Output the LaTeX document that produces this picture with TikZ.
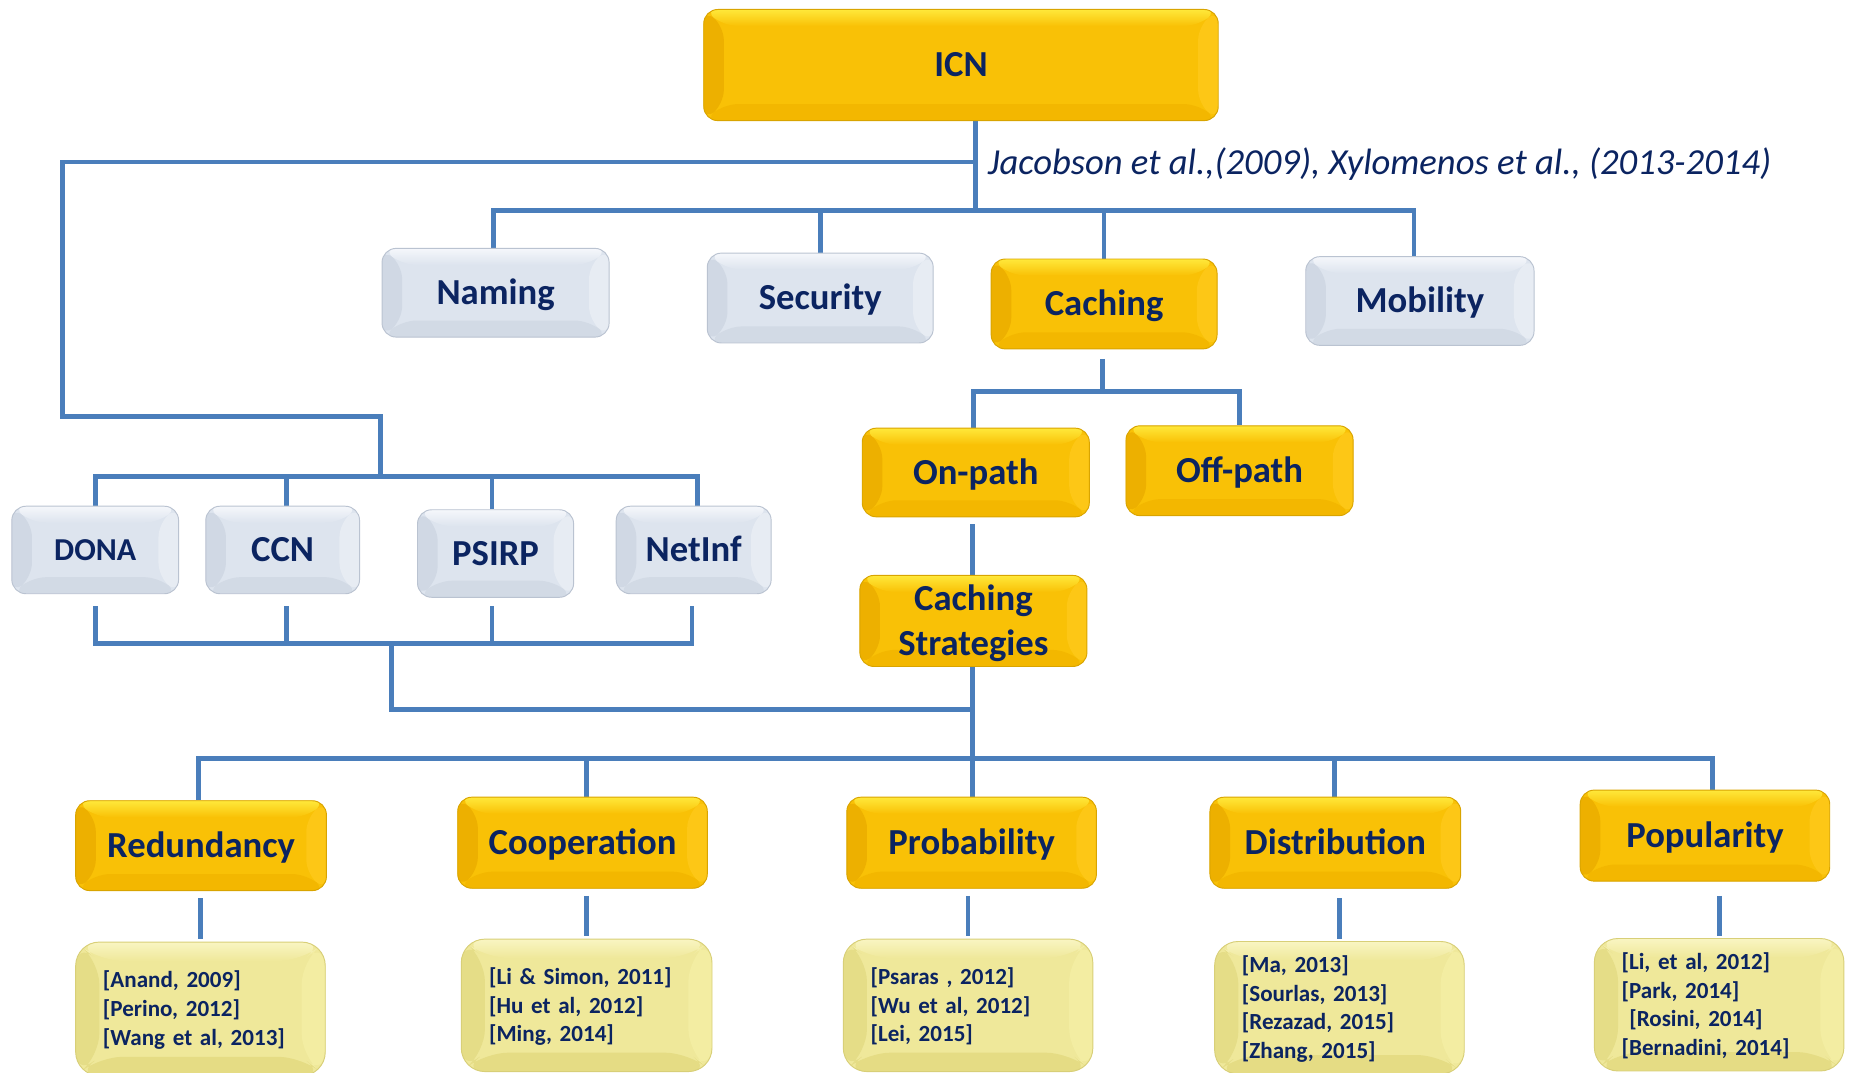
\documentclass[tikz,border=0pt]{standalone}
\usepackage{fontspec}
\setmainfont{Carlito}
\usetikzlibrary{calc,backgrounds}
\definecolor{navy}{HTML}{0B2461}
\definecolor{lineblue}{HTML}{4A7EBB}
% gold
\definecolor{gbase}{HTML}{F9C106}
\definecolor{gtop}{HTML}{FFE83A}
\definecolor{gleft}{HTML}{EDB000}
\definecolor{gright}{HTML}{FDC716}
\definecolor{gbot}{HTML}{F3B700}
\definecolor{gedge}{HTML}{D9A400}
% grey
\definecolor{sbase}{HTML}{DDE4EE}
\definecolor{stop}{HTML}{F5F7FB}
\definecolor{sleft}{HTML}{D0D8E4}
\definecolor{sright}{HTML}{E7ECF3}
\definecolor{sbot}{HTML}{D2DAE5}
\definecolor{sedge}{HTML}{BAC3D1}
% pale yellow
\definecolor{ybase}{HTML}{EFE89A}
\definecolor{ytop}{HTML}{F9F5C2}
\definecolor{yleft}{HTML}{E5DD87}
\definecolor{yright}{HTML}{F3EDA2}
\definecolor{ybot}{HTML}{E5DC84}
\definecolor{yedge}{HTML}{D8CF78}
\newcommand\mybevel[7]{%
  \coordinate (bnw) at (path picture bounding box.north west);
  \coordinate (bne) at (path picture bounding box.north east);
  \coordinate (bsw) at (path picture bounding box.south west);
  \coordinate (bse) at (path picture bounding box.south east);
  \fill[#3] (bnw) -- ($(bnw)+(#6,#7)$) -- ($(bsw)+(#6,-#7)$) -- (bsw) -- cycle;
  \fill[#4] (bne) -- ($(bne)+(-#6,#7)$) -- ($(bse)+(-#6,-#7)$) -- (bse) -- cycle;
  \fill[#5] (bsw) -- ($(bsw)+(#6,-#7)$) -- ($(bse)+(-#6,-#7)$) -- (bse) -- cycle;
  \shade[top color=#1, bottom color=#2] (bnw) -- (bne) -- ($(bne)+(-#6,#7)$) -- ($(bnw)+(#6,#7)$) -- cycle;
}
\tikzset{
  x=1pt, y=-1pt,
  box/.style={rectangle, rounded corners=12pt, inner sep=0pt, text=navy,
    font=\bfseries\fontsize{31}{38}\selectfont, line width=0.8pt,
    text height=20pt, text depth=0pt},
  gold/.style={box, fill=gbase, draw=gedge,
    path picture={\mybevel{gtop}{gbase}{gleft}{gright}{gbot}{17}{14}}},
  grey/.style={box, fill=sbase, draw=sedge,
    path picture={\mybevel{stop}{sbase}{sleft}{sright}{sbot}{17}{14}}},
  refbox/.style={box, rounded corners=20pt, fill=ybase, draw=yedge,
    font=\bfseries\fontsize{19.5}{24.2}\selectfont, align=left,
    text width=165pt, text height=13pt, text depth=48.4pt,
    path picture={\mybevel{ytop}{ybase}{yleft}{yright}{ybot}{20}{16}}},
  conn/.style={draw=lineblue, line width=4pt},
  cite/.style={text=navy, font=\itshape\fontsize{31}{36}\selectfont, anchor=west, inner sep=0pt},
}
\begin{document}
\begin{tikzpicture}
\useasboundingbox (0,0) rectangle (1565,906.4);
% top
\node[gold, minimum width=435pt, minimum height=94pt] (ICN) at (812.5,55) {ICN};
\node[cite] (cit) at (835,138.5) {Jacobson et al.,(2009), Xylomenos et al., (2013-2014)};
% second row
\node[grey, minimum width=192pt, minimum height=75pt] (Naming) at (419,247.5) {Naming};
\node[grey, minimum width=191pt, minimum height=76pt] (Security) at (693.5,252) {Security};
\node[gold, minimum width=191pt, minimum height=76pt] (Caching) at (933.5,257) {Caching};
\node[grey, minimum width=193pt, minimum height=75pt] (Mobility) at (1200.5,254.5) {Mobility};
% on/off path
\node[gold, minimum width=192pt, minimum height=75pt] (Onpath) at (825,399.5) {On-path};
\node[gold, minimum width=192pt, minimum height=76pt] (Offpath) at (1048,398) {Off-path};
\node[gold, minimum width=192pt, minimum height=77pt, align=center, text height=58pt] (CS) at (823,525) {Caching\\Strategies};
% architectures
\node[grey, minimum width=141pt, minimum height=74pt, font=\bfseries\fontsize{27}{32}\selectfont, text height=17.4pt] (DONA) at (80.5,465) {DONA};
\node[grey, minimum width=130pt, minimum height=74pt] (CCN) at (239,465) {CCN};
\node[grey, minimum width=132pt, minimum height=74pt] (PSIRP) at (419,468) {PSIRP};
\node[grey, minimum width=131pt, minimum height=74pt] (NetInf) at (586.5,465) {NetInf};
% strategies
\node[gold, minimum width=212pt, minimum height=76pt] (Redundancy) at (170,715) {Redundancy};
\node[gold, minimum width=211pt, minimum height=77pt] (Cooperation) at (492.5,712.5) {Cooperation};
\node[gold, minimum width=211pt, minimum height=77pt] (Probability) at (821.5,712.5) {Probability};
\node[gold, minimum width=212pt, minimum height=77pt] (Distribution) at (1129,712.5) {Distribution};
\node[gold, minimum width=211pt, minimum height=77pt] (Popularity) at (1441.5,706.5) {Popularity};
% references
\node[refbox, minimum width=211pt, minimum height=113pt] (R1) at (169.5,853) {[Anand, 2009]\\{}[Perino, 2012]\\{}[Wang et al, 2013]};
\node[refbox, minimum width=212pt, minimum height=112pt] (R2) at (496,850) {[Li \& Simon, 2011]\\{}[Hu et al, 2012]\\{}[Ming, 2014]};
\node[refbox, minimum width=211pt, minimum height=112pt] (R3) at (818.5,850) {[Psaras , 2012]\\{}[Wu et al, 2012]\\{}[Lei, 2015]};
\node[refbox, minimum width=211pt, minimum height=112pt, text depth=72.6pt] (R4) at (1132.5,852) {[Ma, 2013]\\{}[Sourlas, 2013]\\{}[Rezazad, 2015]\\{}[Zhang, 2015]};
\node[refbox, minimum width=211pt, minimum height=112pt, text depth=72.6pt] (R5) at (1453.5,849.5) {[Li, et al, 2012]\\{}[Park, 2014]\\{}\ [Rosini, 2014]\\{}[Bernadini, 2014]};
% junctions
\coordinate (jT) at (825,178);
\coordinate (jL) at (825,137);
\coordinate (cL1) at (53,137);
\coordinate (cL2) at (53,352);
\coordinate (cL3) at (322,352);
\coordinate (jP) at (322,403);
\coordinate (jC) at (932,331);
\coordinate (jS) at (822,600);
\coordinate (jA) at (331,544);
\coordinate (jB) at (822,641);
\begin{pgfonlayer}{background}
\draw[conn] (ICN.south -| jT) -- (jT);
\draw[conn] (jL) -- (cL1) -- (cL2) -- (cL3) -- (jP);
\draw[conn] ([xshift=-2pt]Naming.north) -- ([xshift=-2pt]Naming.north |- jT) -- ([xshift=-5pt]Mobility.north |- jT) -- ([xshift=-5pt]Mobility.north);
\draw[conn] (Security.north) -- (Security.north |- jT);
\draw[conn] (Caching.north) -- (Caching.north |- jT);
\draw[conn] ([yshift=-8pt]Caching.south -| jC) -- (jC);
\draw[conn] ([xshift=-2pt]Onpath.north) -- ([xshift=-2pt]Onpath.north |- jC) -- (Offpath.north |- jC) -- (Offpath.north);
\draw[conn] ([yshift=-6pt]Onpath.south -| jS) -- (CS.north -| jS);
\draw[conn] (CS.south -| jS) -- (Probability.north -| jS);
\draw[conn] (jS) -| (jA);
\draw[conn] (DONA.north) -- (DONA.north |- jP) -- ([xshift=3pt]NetInf.north |- jP) -- ([xshift=3pt]NetInf.north);
\draw[conn] ([xshift=3pt]CCN.north) -- ([xshift=3pt]CCN.north |- jP);
\draw[conn] ([xshift=-3pt]PSIRP.north) -- ([xshift=-3pt]PSIRP.north |- jP);
\draw[conn] ([yshift=-10pt]DONA.south) -- (DONA.south |- jA) -- ([xshift=-1.5pt]NetInf.south |- jA) -- ([xshift=-1.5pt,yshift=-10pt]NetInf.south);
\draw[conn] ([xshift=3pt,yshift=-10pt]CCN.south) -- ([xshift=3pt]CCN.south |- jA);
\draw[conn] ([xshift=-3pt,yshift=-7pt]PSIRP.south) -- ([xshift=-3pt]PSIRP.south |- jA);
\draw[conn] ([xshift=-2pt]Redundancy.north) -- ([xshift=-2pt]Redundancy.north |- jB) -- ([xshift=6.5pt]Popularity.north |- jB) -- ([xshift=6.5pt]Popularity.north);
\draw[conn] ([xshift=3.5pt]Cooperation.north) -- ([xshift=3.5pt]Cooperation.north |- jB);
\draw[conn] ([xshift=-1pt]Distribution.north) -- ([xshift=-1pt]Distribution.north |- jB);
\draw[conn] ([yshift=-6pt]Redundancy.south -| R1.north) -- ([yshift=2pt]R1.north);
\draw[conn] ([yshift=-6pt]Cooperation.south -| R2.north) -- ([yshift=2pt]R2.north);
\draw[conn] ([yshift=-6pt]Probability.south -| R3.north) -- ([yshift=2pt]R3.north);
\draw[conn] ([yshift=-8pt]Distribution.south -| R4.north) -- ([yshift=2pt]R4.north);
\draw[conn] ([yshift=-12pt]Popularity.south -| R5.north) -- ([yshift=2pt]R5.north);
\end{pgfonlayer}
\end{tikzpicture}
\end{document}
